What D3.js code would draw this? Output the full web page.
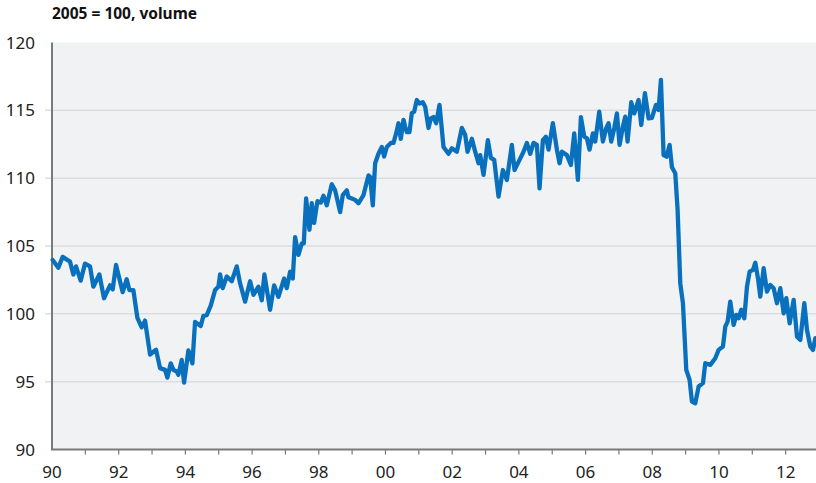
<!DOCTYPE html>
<html>
<head>
<meta charset="utf-8">
<title>Index, 2005 = 100</title>
<script src="https://cdn.jsdelivr.net/npm/d3@7"></script>
<style>
  body { margin: 0; background: #fff; }
  text { font-family: "Noto Sans", sans-serif; }
</style>
</head>
<body>
<script>
var dates = [1990.02,1990.19,1990.32,1990.54,1990.64,1990.72,1990.86,1990.99,
  1991.14,1991.24,1991.42,1991.56,1991.74,1991.82,1991.92,
  1992.12,1992.24,1992.32,1992.44,1992.56,1992.69,1992.79,1992.94,
  1993.12,1993.24,1993.39,1993.46,1993.56,1993.64,1993.74,1993.79,1993.89,1993.96,
  1994.09,1994.21,1994.29,1994.46,1994.54,1994.64,1994.76,1994.89,1994.99,
  1995.04,1995.12,1995.24,1995.39,1995.54,1995.64,1995.79,1995.94,
  1996.04,1996.19,1996.29,1996.37,1996.54,1996.66,1996.79,1996.96,
  1997.04,1997.14,1997.22,1997.29,1997.39,1997.49,1997.55,1997.62,1997.72,1997.79,1997.86,1997.96,
  1998.06,1998.14,1998.24,1998.39,1998.49,1998.64,1998.72,1998.84,1998.89,1998.99,
  1999.09,1999.19,1999.34,1999.49,1999.54,1999.62,1999.69,1999.79,1999.89,1999.96,
  2000.04,2000.16,2000.24,2000.32,2000.39,2000.46,2000.54,2000.59,2000.64,2000.72,2000.79,2000.86,2000.94,
  2001.02,2001.12,2001.19,2001.29,2001.36,2001.44,2001.52,2001.62,2001.74,2001.89,2001.99,
  2002.14,2002.29,2002.39,2002.46,2002.59,2002.69,2002.79,2002.84,2002.94,
  2003.07,2003.16,2003.26,2003.39,2003.52,2003.64,2003.79,2003.87,2003.99,
  2004.14,2004.24,2004.34,2004.44,2004.54,2004.62,2004.72,2004.81,2004.89,
  2005.02,2005.14,2005.22,2005.29,2005.44,2005.56,2005.66,2005.77,2005.86,2005.96,
  2006.04,2006.12,2006.22,2006.29,2006.41,2006.52,2006.62,2006.69,2006.77,2006.86,2006.94,
  2007.02,2007.12,2007.19,2007.26,2007.37,2007.46,2007.59,2007.67,2007.78,2007.89,2007.99,
  2008.11,2008.19,2008.26,2008.34,2008.43,2008.52,2008.59,2008.69,2008.76,2008.84,2008.92,
  2009.02,2009.12,2009.19,2009.29,2009.39,2009.52,2009.59,2009.74,2009.89,2009.99,
  2010.12,2010.19,2010.26,2010.34,2010.44,2010.52,2010.59,2010.67,2010.76,2010.84,2010.92,
  2011.02,2011.09,2011.17,2011.24,2011.34,2011.44,2011.54,2011.64,2011.74,2011.84,2011.94,
  2012.02,2012.12,2012.24,2012.34,2012.44,2012.56,2012.64,2012.74,2012.82,2012.89];

var values = [103.97,103.4,104.2,103.85,102.9,103.5,102.45,103.7,
  103.5,102.0,102.9,101.15,102.1,101.8,103.6,
  101.6,102.55,101.75,101.75,99.7,99.0,99.5,97.0,
  97.35,96.0,95.87,95.3,96.35,95.87,95.75,95.5,96.6,94.93,
  97.3,96.35,99.4,99.1,99.85,99.9,100.6,101.75,102.0,
  102.9,101.9,102.75,102.4,103.5,102.25,100.9,102.4,
  101.4,102.0,101.0,102.9,100.3,102.1,101.25,102.6,
  101.9,103.1,102.6,105.65,104.35,105.2,105.2,108.5,106.2,108.15,106.7,108.3,
  108.2,108.7,108.0,109.55,109.1,107.5,108.75,109.1,108.6,108.5,
  108.4,108.15,108.75,110.2,110.1,108.0,111.1,111.8,112.3,111.6,
  112.3,112.6,112.6,113.3,114.05,112.9,114.3,113.8,113.4,113.4,114.8,114.9,115.76,
  115.5,115.6,115.27,113.7,114.4,114.5,114.05,115.4,112.3,111.8,112.2,
  111.95,113.7,113.2,111.95,112.9,111.95,111.1,111.7,110.24,
  112.8,111.5,111.35,108.64,110.6,109.87,112.45,110.6,111.2,
  111.95,112.6,111.8,112.6,112.45,109.25,112.8,113.05,112.1,
  114.05,112.1,111.1,111.95,111.7,110.97,113.3,109.87,114.5,113.06,
  112.94,112.1,113.3,112.7,114.9,112.7,113.68,114.05,112.7,113.68,114.78,
  112.45,113.8,114.53,112.7,115.6,114.78,115.76,113.92,116.26,114.41,114.45,
  115.4,115.03,117.24,111.7,111.58,112.45,110.8,110.36,107.66,102.26,100.78,
  95.87,95.13,93.53,93.41,94.64,94.89,96.36,96.24,96.73,97.34,
  97.59,99.06,99.43,100.9,99.18,99.92,99.67,100.3,99.67,102.0,103.11,
  103.24,103.77,102.62,101.27,103.36,101.64,102.13,101.89,100.78,101.89,100.04,
  101.15,99.3,101.03,98.32,98.08,100.78,98.81,97.59,97.34,98.2];

var yTicks = [90, 95, 100, 105, 110, 115, 120];
var yearTicks = d3.range(1991, 2013);        // small tick every year
var yearLabels = d3.range(1990, 2013, 2);    // label every other year
var title = "2005 = 100, volume";

var width = 816, height = 483,
    margins = { left: 52, top: 42.5, right: -3, bottom: 33.5 };

var x = d3.scaleLinear().domain([1990, 2013]).range([margins.left, width - margins.right]);
var y = d3.scaleLinear().domain([90, 120]).range([height - margins.bottom, margins.top]);

var svg = d3.select("body").append("svg")
    .attr("width", width)
    .attr("height", height);

// plot background
svg.append("rect")
    .attr("x", x(1990)).attr("y", y(120))
    .attr("width", x(2013) - x(1990)).attr("height", y(90) - y(120))
    .attr("fill", "#f1f2f4");

// horizontal grid lines
svg.selectAll("line.grid")
    .data(yTicks.filter(function (d) { return d > 90 && d < 120; }))
    .enter().append("line")
    .attr("class", "grid")
    .attr("x1", x(1990) - 7).attr("x2", x(2013))
    .attr("y1", function (d) { return y(d); })
    .attr("y2", function (d) { return y(d); })
    .attr("stroke", "#dcdde0")
    .attr("stroke-width", 1.5);

// y labels
svg.selectAll("text.ylab")
    .data(yTicks)
    .enter().append("text")
    .attr("class", "ylab")
    .attr("x", 35)
    .attr("y", function (d) { return y(d); })
    .attr("dy", "0.36em")
    .attr("text-anchor", "end")
    .attr("font-size", 17)
    .attr("fill", "#222")
    .text(function (d) { return d; });

// x axis: ticks each year, labels every 2 years
svg.selectAll("line.xtick")
    .data(yearTicks)
    .enter().append("line")
    .attr("class", "xtick")
    .attr("x1", function (d) { return x(d); })
    .attr("x2", function (d) { return x(d); })
    .attr("y1", y(90)).attr("y2", y(90) + 5)
    .attr("stroke", "#777")
    .attr("stroke-width", 1.2);

svg.selectAll("text.xlab")
    .data(yearLabels)
    .enter().append("text")
    .attr("class", "xlab")
    .attr("x", function (d) { return x(d); })
    .attr("y", 478)
    .attr("text-anchor", "middle")
    .attr("font-size", 17)
    .attr("fill", "#222")
    .text(function (d) { return d3.format("02")(d % 100); });

// axis lines
svg.append("line")
    .attr("x1", x(1990)).attr("x2", x(1990))
    .attr("y1", y(120)).attr("y2", y(90))
    .attr("stroke", "#7a7a7a").attr("stroke-width", 2);
svg.append("line")
    .attr("x1", x(1990) - 1).attr("x2", x(2013))
    .attr("y1", y(90)).attr("y2", y(90))
    .attr("stroke", "#7a7a7a").attr("stroke-width", 2);

// the series
var line = d3.line()
    .x(function (d) { return x(d[0]); })
    .y(function (d) { return y(d[1]); });

svg.append("path")
    .datum(d3.zip(dates, values))
    .attr("d", line)
    .attr("fill", "none")
    .attr("stroke", "#0870bd")
    .attr("stroke-width", 4.3)
    .attr("stroke-linejoin", "round")
    .attr("stroke-linecap", "round");

// unit note above the plot
svg.append("text")
    .attr("x", 52).attr("y", 19)
    .attr("font-size", 15.5)
    .attr("font-weight", "bold")
    .attr("fill", "#111")
    .text(title);
</script>
</body>
</html>
